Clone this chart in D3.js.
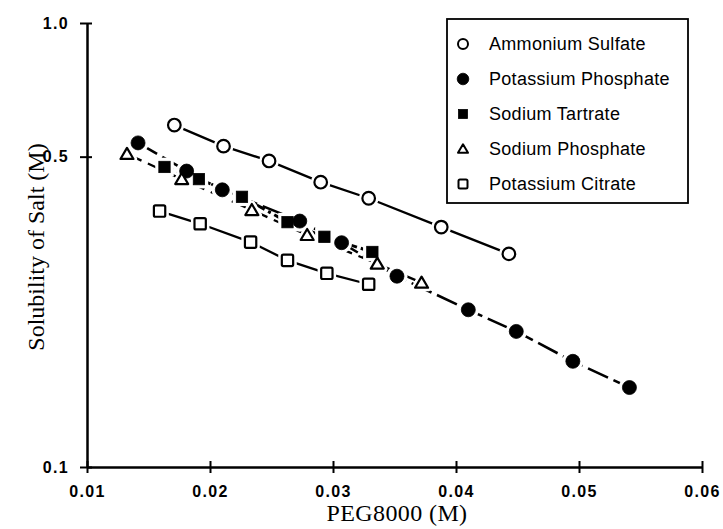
<!DOCTYPE html>
<html><head><meta charset="utf-8">
<script src="https://cdn.jsdelivr.net/npm/d3@7"></script>
<style>body{margin:0;background:#fff}</style>
</head><body>
<svg id="c" width="723" height="529"></svg>
<script>
const seriesNames = ["Ammonium Sulfate","Potassium Phosphate","Sodium Tartrate","Sodium Phosphate","Potassium Citrate"];
const ammoniumSulfateX = [0.0171,0.0211,0.0248,0.0290,0.0329,0.0388,0.0443];
const ammoniumSulfateY = [0.589,0.528,0.489,0.438,0.403,0.347,0.302];
const potassiumPhosphateX = [0.01415,0.0181,0.0210,0.0273,0.0307,0.0352,0.0410,0.0449,0.0495,0.0541];
const potassiumPhosphateY = [0.537,0.464,0.421,0.358,0.320,0.269,0.226,0.202,0.173,0.151];
const sodiumTartrateX = [0.0163,0.0191,0.0226,0.0263,0.0293,0.0332];
const sodiumTartrateY = [0.474,0.445,0.406,0.356,0.330,0.305];
const sodiumPhosphateX = [0.01325,0.0177,0.0234,0.0279,0.0336,0.0372];
const sodiumPhosphateY = [0.507,0.445,0.379,0.333,0.287,0.260];
const potassiumCitrateX = [0.0159,0.0192,0.0233,0.0263,0.0295,0.0329];
const potassiumCitrateY = [0.377,0.353,0.321,0.292,0.273,0.258];
const xTicks = [0.01,0.02,0.03,0.04,0.05,0.06];
const xTickLabels = ["0.01","0.02","0.03","0.04","0.05","0.06"];
const yTicks = [0.1,0.5,1.0];
const yTickLabels = ["0.1","0.5","1.0"];

const seriesX = [ammoniumSulfateX,potassiumPhosphateX,sodiumTartrateX,sodiumPhosphateX,potassiumCitrateX];
const seriesY = [ammoniumSulfateY,potassiumPhosphateY,sodiumTartrateY,sodiumPhosphateY,potassiumCitrateY];
const markers = ["openCircle","filledCircle","filledSquare","openTriangle","openSquare"];
const dashes = [null,"22,6","9,4,3,4","16,7",null];
const widths = [2.3,2.6,3,2.3,2.3];

const svg = d3.select("#c");
const x = d3.scaleLinear().domain([0.01,0.06]).range([87,702]);
const y = d3.scaleLog().domain([0.1,1]).range([467,23]);

function drawMarker(g, type, cx, cy, s, halo, sw){
  let el;
  if(type==="openCircle"||type==="filledCircle"){
    el = g.append("circle").attr("cx",cx).attr("cy",cy).attr("r",s);
  } else if(type==="filledSquare"||type==="openSquare"){
    el = g.append("rect").attr("x",cx-s*0.9).attr("y",cy-s*0.9).attr("width",s*1.8).attr("height",s*1.8).attr("rx",type==="openSquare"?1.5:0);
  } else {
    const h = s*1.7, w = s*2;
    el = g.append("path").attr("d",`M${cx},${cy-h*0.55}L${cx+w/2},${cy+h*0.45}L${cx-w/2},${cy+h*0.45}Z`).attr("stroke-linejoin","round");
  }
  const filled = type.startsWith("filled");
  if(halo){
    el.attr("fill","#fff").attr("stroke","#fff").attr("stroke-width",sw+5);
  } else {
    el.attr("fill",filled?"#000":"#fff").attr("stroke","#000").attr("stroke-width",filled?0.8:sw);
  }
}

// lines
const line = d3.line().x(d=>x(d[0])).y(d=>y(d[1]));
seriesX.forEach((xs,i)=>{
  const pts = xs.map((v,j)=>[v,seriesY[i][j]]);
  svg.append("path").attr("d",line(pts)).attr("fill","none").attr("stroke","#000")
    .attr("stroke-width",widths[i]).attr("stroke-dasharray",dashes[i]);
});
// halos then markers
const sizes = [6.3,7,6.3,6.5,6.3];
seriesX.forEach((xs,i)=>{
  const g = svg.append("g");
  xs.forEach((v,j)=>drawMarker(g,markers[i],x(v),y(seriesY[i][j]),sizes[i],true,2.2));
});
seriesX.forEach((xs,i)=>{
  const g = svg.append("g");
  xs.forEach((v,j)=>drawMarker(g,markers[i],x(v),y(seriesY[i][j]),sizes[i],false,2.2));
});

// axes
const tickFont = "Liberation Sans, Arial, sans-serif";
const xa = svg.append("g").attr("transform","translate(0,467)")
  .call(d3.axisBottom(x).tickValues(xTicks).tickFormat((d,i)=>xTickLabels[i]).tickSizeOuter(0).tickSizeInner(6).tickPadding(13));
xa.select(".domain").attr("stroke-width",2.5);
xa.selectAll(".tick line").attr("y1",-6).attr("y2",6).attr("stroke-width",2);
xa.selectAll(".tick text").attr("font-family",tickFont).attr("font-size",16).attr("font-weight","bold").attr("letter-spacing",1.3).attr("fill","#000");

const ya = svg.append("g").attr("transform","translate(87,0)")
  .call(d3.axisLeft(y).tickValues(yTicks).tickFormat((d,i)=>yTickLabels[i]).tickSizeOuter(0).tickSizeInner(6).tickPadding(12));
ya.select(".domain").attr("stroke-width",2.5);
ya.selectAll(".tick line").attr("x1",-7).attr("x2",5).attr("stroke-width",2);
ya.selectAll(".tick text").attr("font-family",tickFont).attr("font-size",16).attr("font-weight","bold").attr("letter-spacing",1.3).attr("fill","#000");

// titles
svg.append("text").attr("x",397).attr("y",521).attr("text-anchor","middle")
  .attr("font-family","Liberation Serif, Times New Roman, serif").attr("font-size",24).attr("letter-spacing",0.4).text("PEG8000 (M)");
svg.append("text").attr("transform","translate(44,247) rotate(-90)").attr("text-anchor","middle")
  .attr("font-family","Liberation Serif, Times New Roman, serif").attr("font-size",24).text("Solubility of Salt (M)");

// legend
const lg = svg.append("g");
lg.append("rect").attr("x",447).attr("y",19).attr("width",241).attr("height",184).attr("fill","#fff").attr("stroke","#000").attr("stroke-width",1.8);
seriesNames.forEach((n,i)=>{
  const cy = 44 + i*35;
  drawMarker(lg,markers[i],463,cy,i===1?5.8:5,false,2);
  lg.append("text").attr("x",489).attr("y",cy+6).attr("font-family","Liberation Sans, Arial, sans-serif")
    .attr("font-size",18).attr("letter-spacing",0.3).text(n);
});
</script>
</body></html>
